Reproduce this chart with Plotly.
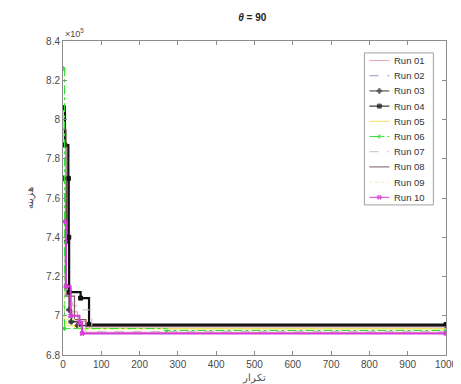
import plotly.graph_objects as go

# Convergence data (cost in units of 1e5), step change points: iteration -> best cost
run_names = ["Run 01", "Run 02", "Run 03", "Run 04", "Run 05",
             "Run 06", "Run 07", "Run 08", "Run 09", "Run 10"]

run01_it = [1, 6, 20, 38, 60, 1000]
run01_val = [7.62, 7.14, 7.02, 6.97, 6.915, 6.915]

run02_it = [1, 4, 15, 45, 1000]
run02_val = [7.05, 6.99, 6.96, 6.935, 6.935]

run03_it = [1, 10, 16, 22, 38, 1000]
run03_val = [7.70, 7.38, 7.03, 6.97, 6.95, 6.95]

run04_it = [1, 5, 14, 15, 16, 46, 68, 1000]
run04_val = [8.06, 7.87, 7.70, 7.40, 7.12, 7.09, 6.955, 6.955]

run05_it = [1, 3, 10, 30, 1000]
run05_val = [7.00, 6.97, 6.95, 6.935, 6.935]

run06_it = [1, 4, 270, 1000]
run06_val = [8.26, 6.935, 6.925, 6.925]

run07_it = [1, 5, 25, 46, 75, 1000]
run07_val = [7.30, 7.10, 7.05, 7.03, 6.92, 6.92]

run08_it = [1, 8, 30, 60, 1000]
run08_val = [7.95, 7.10, 6.98, 6.945, 6.945]

run09_it = [1, 5, 40, 1000]
run09_val = [7.15, 6.98, 6.93, 6.93]

run10_it = [1, 8, 20, 43, 50, 1000]
run10_val = [7.48, 7.15, 7.00, 6.965, 6.91, 6.91]

x_ticks = [0, 100, 200, 300, 400, 500, 600, 700, 800, 900, 1000]
y_ticks = [6.8, 7.0, 7.2, 7.4, 7.6, 7.8, 8.0, 8.2, 8.4]
y_ticktext = ["6.8", "7", "7.2", "7.4", "7.6", "7.8", "8", "8.2", "8.4"]

its = [run01_it, run02_it, run03_it, run04_it, run05_it,
       run06_it, run07_it, run08_it, run09_it, run10_it]
vals = [run01_val, run02_val, run03_val, run04_val, run05_val,
        run06_val, run07_val, run08_val, run09_val, run10_val]

colors = ["#e6a6b8", "#8f9ab8", "#3a3a3a", "#111111", "#f2e15a",
          "#35e035", "#c9b8c9", "#7a5a5a", "#f3f0a0", "#d63cd6"]
dashes = ["solid", "dash", "solid", "solid", "solid",
          "dashdot", "dash", "solid", "dot", "solid"]
widths = [1.2, 1, 1.5, 2.2, 1, 1.2, 1, 1.2, 1, 2]
markers = [None, None, "cross", "square", None, "asterisk-open", None, None, None, "x"]

fig = go.Figure()
for name, xi, yi, c, d, w, m in zip(run_names, its, vals, colors, dashes, widths, markers):
    mode = "lines+markers" if m else "lines"
    marker = dict(symbol=m, size=4, color=c, line=dict(color=c, width=1)) if m else None
    fig.add_trace(go.Scatter(x=xi, y=yi, name=name, mode=mode, line_shape="hv",
                             line=dict(color=c, dash=d, width=w), marker=marker,
                             showlegend=False))

# Compact legend drawn on an overlay axis in [0,1] plot-area coordinates
leg_x0, leg_x1 = 0.787, 0.967
leg_top, leg_bot = 0.962, 0.478
step = (leg_top - leg_bot) / 10
sample_x = [0.800, 0.826, 0.852]
text_x = 0.858
annotations = []
for i, (name, c, d, m) in enumerate(zip(run_names, colors, dashes, markers)):
    yc = leg_top - step * (i + 0.5)
    fig.add_trace(go.Scatter(
        x=sample_x, y=[yc, yc, yc], xaxis="x2", yaxis="y2",
        mode="lines+markers" if m else "lines",
        line=dict(color=c, dash=d, width=1),
        marker=dict(symbol=m, size=[0, 4, 0], color=c, line=dict(color=c, width=1)) if m else None,
        showlegend=False, hoverinfo="skip"))
    annotations.append(dict(text=name, x=text_x, y=yc, xref="x2", yref="y2",
                            xanchor="left", yanchor="middle", showarrow=False,
                            font=dict(family="Liberation Sans", size=9.5, color="#333")))

axis_common = dict(showgrid=False, zeroline=False, showline=True, mirror="ticks",
                   linecolor="#8c8c8c", linewidth=1, ticks="inside", ticklen=4,
                   tickcolor="#8c8c8c", ticklabeloverflow="allow",
                   tickfont=dict(family="Liberation Sans", size=10, color="#4a4a4a"))

annotations.append(dict(text="×10<sup>5</sup>", x=0, y=1.0, xref="paper", yref="paper",
                        xanchor="left", yanchor="bottom", showarrow=False,
                        font=dict(family="Liberation Sans", size=9, color="#4a4a4a")))

fig.update_layout(
    width=461, height=384,
    margin=dict(l=55, r=11, t=33, b=37),
    paper_bgcolor="white", plot_bgcolor="white",
    title=dict(text="<b><i>θ</i> = 90</b>", x=0.53, xanchor="center", y=0.985, yanchor="top",
               font=dict(family="Liberation Sans", size=10, color="#222")),
    xaxis=dict(range=[0, 1000], tickvals=x_ticks, ticktext=[str(v) for v in x_ticks],
               title=dict(text="تکرار", font=dict(family="Noto Sans", size=10, color="#4a4a4a"), standoff=2),
               **axis_common),
    yaxis=dict(range=[6.8, 8.4], tickvals=y_ticks, ticktext=y_ticktext,
               title=dict(text="هزینه", font=dict(family="Noto Sans", size=10, color="#4a4a4a"), standoff=10),
               **axis_common),
    xaxis2=dict(overlaying="x", range=[0, 1], visible=False, fixedrange=True),
    yaxis2=dict(overlaying="y", range=[0, 1], visible=False, fixedrange=True),
    shapes=[dict(type="rect", xref="x2", yref="y2", x0=leg_x0, x1=leg_x1, y0=leg_bot, y1=leg_top,
                 line=dict(color="#a0a0a0", width=1), fillcolor="white", layer="below")],
    annotations=annotations,
    showlegend=False,
)

fig.write_html("out.html")
